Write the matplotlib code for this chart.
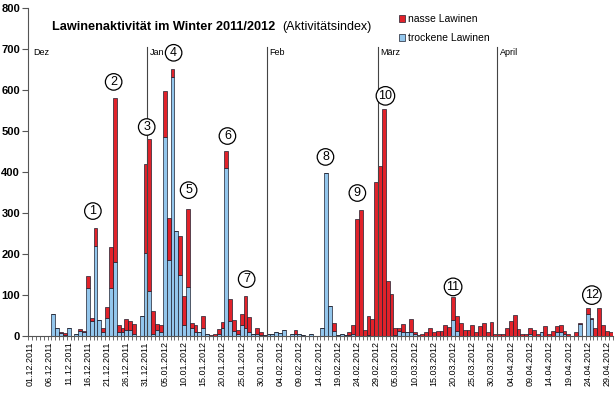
import numpy as np
import pandas as pd
import matplotlib
matplotlib.use("Agg")
import matplotlib.pyplot as plt
from matplotlib.patches import Patch

plt.rcParams['font.family'] = ['Liberation Sans', 'DejaVu Sans']

# daily activity index, 01.12.2011 - 30.04.2012
dates = pd.date_range('2011-12-01', '2012-04-30', freq='D')

# trockene Lawinen (dry) per day
trocken = [
    # Dez
    0, 0, 0, 0, 0, 0, 52, 20, 7, 2, 20, 0, 5, 12, 10, 117, 37, 220, 38, 10,
    42, 117, 180, 10, 10, 15, 15, 3, 0, 48, 201,
    # Jan
    110, 3, 14, 10, 485, 185, 630, 256, 148, 26, 118, 18, 10, 8, 18, 5, 0, 0, 3, 18,
    410, 36, 12, 3, 27, 18, 8, 3, 3, 2, 2,
    # Feb
    3, 5, 9, 6, 15, 0, 3, 3, 4, 2, 0, 3, 0, 0, 20, 397, 72, 12, 2, 3,
    2, 2, 3, 0, 0, 0, 2, 0, 0,
    # Maerz
    0, 0, 0, 0, 2, 12, 8, 8, 10, 5, 0, 0, 0, 0, 0, 0, 0, 0, 0, 38,
    11, 0, 0, 0, 0, 0, 0, 0, 0, 0, 0,
    # April
    0, 0, 0, 0, 0, 0, 0, 0, 5, 0, 0, 8, 0, 0, 0, 8, 10, 5, 0, 0,
    0, 28, 0, 52, 40, 0, 0, 0, 0, 0,
]

# nasse Lawinen (wet) per day
nass = [
    # Dez
    0, 0, 0, 0, 0, 0, 0, 0, 3, 4, 0, 0, 0, 5, 2, 28, 5, 43, 0, 10,
    28, 100, 400, 15, 8, 25, 20, 25, 0, 0, 217,
    # Jan
    370, 57, 14, 16, 113, 102, 21, 0, 96, 72, 192, 14, 16, 0, 30, 0, 2, 5, 14, 15,
    40, 53, 26, 12, 25, 79, 37, 2, 17, 8, 0,
    # Feb
    0, 0, 0, 0, 0, 0, 0, 12, 0, 0, 0, 0, 0, 0, 0, 0, 0, 18, 0, 2,
    0, 8, 22, 284, 307, 14, 46, 40, 375,
    # Maerz
    414, 553, 133, 102, 16, 6, 20, 2, 30, 3, 2, 5, 8, 18, 10, 12, 12, 26, 22, 57,
    37, 30, 15, 15, 26, 8, 24, 30, 8, 34, 5,
    # April
    5, 5, 19, 37, 50, 16, 3, 3, 15, 13, 5, 2, 24, 3, 12, 15, 15, 7, 3, 0,
    8, 2, 0, 16, 2, 20, 67, 26, 12, 8,
]

month_names = ['Dez', 'Jan', 'Feb', 'März', 'April']
event_labels = ['1', '2', '3', '4', '5', '6', '7', '8', '9', '10', '11', '12']
# where the circled numbers sit (day index, activity value)
event_pos = [(16.3, 304), (21.7, 619), (30.3, 509), (37.3, 690), (41.2, 355), (51.3, 487),
             (56.3, 138), (76.8, 436), (85.1, 348), (92.4, 585), (110.0, 119), (146.1, 99)]

red = '#e1222a'
blue = '#93c6ec'
edge = '#1e2130'

trocken = np.array(trocken)
nass = np.array(nass)
x = np.arange(len(dates))

fig = plt.figure(figsize=(6.16, 3.97), dpi=100)
ax = fig.add_axes([28.3/616, 1-335.7/397, (613-28.3)/616, (335.7-7.7)/397])

ax.bar(x, trocken, width=1.0, color=blue, edgecolor=edge, linewidth=0.5)
ax.bar(x, nass, width=1.0, bottom=trocken, color=red, edgecolor=edge, linewidth=0.5)

ax.set_xlim(-0.4, 151.6)
ax.set_ylim(0, 800)

# month separators
starts = [i for i, d in enumerate(dates) if d.day == 1]
for k, (s, name) in enumerate(zip(starts, month_names)):
    if k == 0:
        ax.text(s + 0.9, 690, name, fontsize=6.5, ha='left', va='center')
    else:
        ax.plot([s - 0.5, s - 0.5], [0, 705], color='#444444', lw=0.8)
        ax.text(s + 0.1, 690, name, fontsize=6.5, ha='left', va='center')

# circled event numbers
for lab, (ex, ey) in zip(event_labels, event_pos):
    ax.text(ex, ey, lab, fontsize=9, ha='center', va='center',
            bbox=dict(boxstyle='circle,pad=0.18', fc='white', ec='black', lw=0.9))

# axes styling
for s in ['top', 'right']:
    ax.spines[s].set_visible(False)
ax.spines['left'].set_color('#555555')
ax.spines['bottom'].set_color('#555555')

ax.set_yticks(np.arange(0, 801, 100))
ax.tick_params(axis='y', length=4, width=0.8, color='#555555', labelsize=8, pad=2)
for t in ax.get_yticklabels():
    t.set_fontweight('bold')

ax.set_xticks(x[::5])
ax.set_xticklabels(dates[::5].strftime('%d.%m.%Y'), rotation=90, fontsize=6.5)
ax.set_xticks(np.arange(-0.5, len(dates), 1), minor=True)
ax.tick_params(axis='x', which='major', length=0, pad=4)
ax.tick_params(axis='x', which='minor', length=3, width=0.6, color='#555555')

# title
fig.text(52/616, 1-27/397, 'Lawinenaktivität im Winter 2011/2012', fontsize=9.2,
         fontweight='bold', ha='left', va='center')
fig.text(282/616, 1-27/397, '(Aktivitätsindex)', fontsize=9, ha='left', va='center')

# legend
handles = [Patch(facecolor=red, edgecolor=edge, linewidth=0.5),
           Patch(facecolor=blue, edgecolor=edge, linewidth=0.5)]
fig.legend(handles, ['nasse Lawinen', 'trockene Lawinen'], loc='upper left',
           bbox_to_anchor=(392/616, 1-7/397), frameon=False, fontsize=7.5,
           handlelength=0.55, handleheight=0.55, handletextpad=0.3, labelspacing=0.85,
           borderpad=0.2)

fig.savefig('out.png', dpi=100)
